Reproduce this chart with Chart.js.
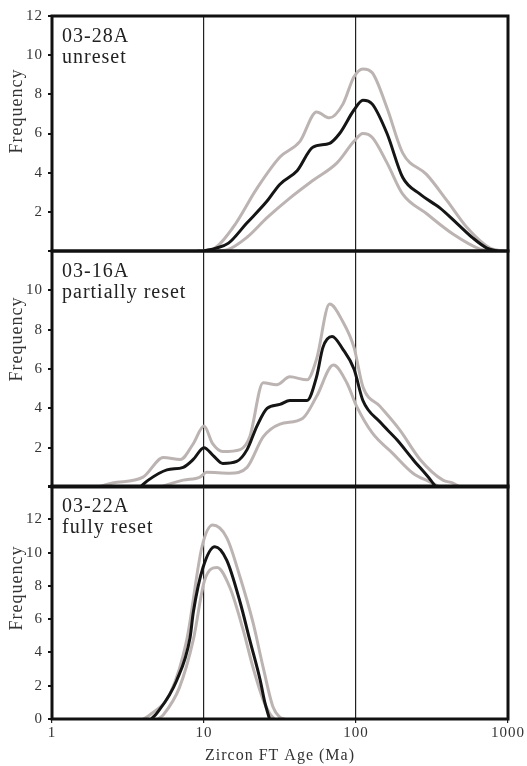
<!DOCTYPE html>
<html>
<head>
<meta charset="utf-8">
<script src="https://cdn.jsdelivr.net/npm/chart.js@4.4.1/dist/chart.umd.min.js"></script>
<style>
  body { margin: 0; background: #fff; }
  #wrap { position: relative; width: 527px; height: 766px; }
  canvas { position: absolute; left: 0; }
</style>
</head>
<body>
<div id="wrap">
  <canvas id="c1" width="527" height="265" style="top:0px"></canvas>
  <canvas id="c2" width="527" height="264" style="top:237px"></canvas>
  <canvas id="c3" width="527" height="296" style="top:470px"></canvas>
</div>
<script>
// x axis ticks (Ma, log scale)
var ageTicks = [1, 10, 100, 1000]

// 03-28A unreset
var p1MidAge = [10, 12, 14.5, 19, 26, 31.5, 41, 52, 67, 78, 97, 111, 128, 160, 203, 264, 356, 463, 586, 726, 850]
var p1MidFreq = [0, 0.15, 0.4, 1.4, 2.55, 3.4, 4.1, 5.3, 5.5, 6.0, 7.2, 7.7, 7.5, 6.0, 3.75, 2.9, 2.2, 1.4, 0.67, 0.15, 0]
var p1UpAge = [9, 11.4, 15.5, 22.3, 31.6, 42.8, 55, 67, 82, 97, 111, 128, 160, 203, 292, 398, 537, 761, 950]
var p1UpFreq = [0, 0.1, 1.2, 3.2, 4.8, 5.6, 7.1, 6.8, 7.5, 8.9, 9.3, 9.1, 7.3, 5.0, 3.9, 2.56, 1.2, 0.15, 0]
var p1LoAge = [12, 14.1, 19.2, 26, 36.7, 52, 75, 97, 111, 128, 160, 203, 292, 434, 655, 800]
var p1LoFreq = [0, 0.05, 0.7, 1.7, 2.7, 3.6, 4.5, 5.6, 6.0, 5.8, 4.5, 2.9, 1.9, 0.87, 0.1, 0]

// 03-16A partially reset
var p2MidAge = [3.8, 4.3, 5.7, 7.3, 8.5, 10, 11.5, 13.3, 16.4, 19.2, 22.3, 26, 31.6, 36.7, 47.6, 55, 60.6, 69.6, 82, 97, 111, 144, 186, 237, 310, 335]
var p2MidFreq = [0, 0.35, 0.87, 1.0, 1.4, 2.0, 1.6, 1.2, 1.3, 1.9, 3.1, 4.0, 4.2, 4.4, 4.4, 5.6, 7.1, 7.65, 7.0, 6.0, 4.4, 3.3, 2.4, 1.4, 0.35, 0]
var p2UpAge = [2.0, 2.5, 3.97, 5.4, 7.0, 8.5, 10, 11.4, 13.3, 17.3, 20, 24.5, 30, 36.7, 47.6, 55, 67, 82, 97, 111, 144, 194, 264, 373, 434, 480]
var p2UpFreq = [0, 0.2, 0.5, 1.5, 1.4, 2.2, 3.1, 2.2, 1.8, 1.9, 2.55, 5.3, 5.2, 5.6, 5.45, 6.5, 9.3, 8.4, 7.1, 5.1, 4.1, 2.9, 1.4, 0.35, 0.2, 0]
var p2LoAge = [5.1, 7.3, 9.4, 10.4, 14.8, 19.2, 24.5, 31.6, 44.7, 55, 71, 87, 101, 128, 175, 237, 308, 356]
var p2LoFreq = [0, 0.35, 0.5, 0.75, 0.7, 1.0, 2.55, 3.2, 3.5, 4.6, 6.2, 5.3, 4.1, 2.75, 1.7, 0.7, 0.25, 0]

// 03-22A fully reset
var p3MidAge = [4.5, 4.9, 6.6, 8.1, 8.5, 9.85, 11.8, 14.1, 17.3, 20, 23.4, 25.2, 27]
var p3MidFreq = [0, 0.35, 2.3, 4.9, 6.4, 9.1, 10.35, 9.55, 7.0, 4.75, 2.35, 0.95, 0]
var p3UpAge = [4.0, 4.4, 6.0, 7.7, 9.7, 11.4, 14.1, 17.3, 21, 24.5, 28.5, 31.6, 34]
var p3UpFreq = [0, 0.25, 1.55, 4.75, 10.35, 11.65, 10.9, 8.5, 5.8, 3.1, 0.7, 0.1, 0]
var p3LoAge = [5.0, 5.4, 6.9, 8.5, 10.1, 12.2, 14.8, 18.1, 21, 24.5, 27, 29]
var p3LoFreq = [0, 0.25, 1.9, 4.75, 8.35, 9.1, 7.9, 5.35, 3.1, 1.15, 0.35, 0]

var serif = "'Liberation Serif', 'DejaVu Serif', serif"
var grayCol = "#bcb4b2"
var blackCol = "#151515"

function pts(xs, ys){
	var out = []
	for(var i=0;i<xs.length;i++){ out.push({x:xs[i], y:ys[i]}) }
	return out
}

function line(xs, ys, col, ord){
	return {
		data: pts(xs, ys),
		borderColor: col,
		borderWidth: 3,
		pointRadius: 0,
		fill: false,
		cubicInterpolationMode: 'monotone',
		order: ord
	}
}

// frame + panel labels + "Frequency"
var panelDeco = {
	id: 'panelDeco',
	beforeDraw: function(chart){
		// the scanned figure has loosely spaced type
		chart.ctx.letterSpacing = "1px"
	},
	afterDraw: function(chart){
		var ctx = chart.ctx, a = chart.chartArea, o = chart.options.plugins.panelDeco
		ctx.save()
		ctx.strokeStyle = "#111"
		ctx.lineWidth = 3
		ctx.strokeRect(a.left, a.top, a.right - a.left, a.bottom - a.top)
		ctx.letterSpacing = "1px"
		ctx.fillStyle = "#222"
		ctx.font = "20px " + serif
		ctx.textBaseline = "alphabetic"
		ctx.textAlign = "left"
		ctx.fillText(o.name, a.left + 10, a.top + 26)
		ctx.fillText(o.state, a.left + 10, a.top + 47)
		ctx.translate(17, a.top + o.freqY)
		ctx.rotate(-Math.PI/2)
		ctx.textAlign = "center"
		ctx.textBaseline = "middle"
		ctx.font = "18px " + serif
		ctx.fillStyle = "#333"
		ctx.fillText("Frequency", 0, 0)
		ctx.restore()
	}
}

function makeChart(id, sets, cfg){
	var el = document.getElementById(id)
	return new Chart(el, {
		type: 'line',
		data: { datasets: sets },
		plugins: [panelDeco],
		options: {
			responsive: false,
			animation: false,
			devicePixelRatio: 1,
			layout: { padding: cfg.pad },
			plugins: {
				legend: { display: false },
				tooltip: { enabled: false },
				panelDeco: { name: cfg.name, state: cfg.state, freqY: cfg.freqY }
			},
			scales: {
				x: {
					type: 'logarithmic',
					min: 1, max: 1000,
					afterBuildTicks: function(s){ s.ticks = ageTicks.map(function(v){ return {value:v} }) },
					afterFit: function(s){ s.height = cfg.xHeight },
					border: { display: false },
					grid: { color: "#222", lineWidth: 1.2, drawTicks: cfg.bottom, tickLength: 4 },
					ticks: {
						display: cfg.bottom,
						autoSkip: false,
						maxRotation: 0,
						padding: 1,
						color: "#333",
						font: { family: serif, size: 15 },
						callback: function(v){ return ageTicks.indexOf(v) >= 0 ? String(v) : '' }
					},
					title: {
						display: cfg.bottom,
						text: "Zircon FT Age (Ma)",
						color: "#333",
						font: { family: serif, size: 16 },
						padding: { top: 0, bottom: 1 }
					}
				},
				y: {
					min: 0, max: cfg.yMax,
					afterFit: function(s){ s.width = 52 },
					border: { display: false },
					grid: { drawOnChartArea: false, drawTicks: true, tickLength: 4, color: "#111", lineWidth: 2 },
					ticks: {
						stepSize: 2,
						padding: 5,
						color: "#333",
						font: { family: serif, size: 15 },
						callback: function(v){ return cfg.hide.indexOf(v) >= 0 ? '' : String(v) }
					}
				}
			}
		}
	})
}

makeChart('c1', [
	line(p1MidAge, p1MidFreq, blackCol, 0),
	line(p1UpAge, p1UpFreq, grayCol, 1),
	line(p1LoAge, p1LoFreq, grayCol, 1)
], { pad: {top:16, right:19, bottom:5, left:0}, yMax: 12, hide: [0], bottom: false, xHeight: 0,
     name: "03-28A", state: "unreset", freqY: 95 })

makeChart('c2', [
	line(p2MidAge, p2MidFreq, blackCol, 0),
	line(p2UpAge, p2UpFreq, grayCol, 1),
	line(p2LoAge, p2LoFreq, grayCol, 1)
], { pad: {top:10, right:19, bottom:6, left:0}, yMax: 12, hide: [0, 12], bottom: false, xHeight: 0,
     name: "03-16A", state: "partially reset", freqY: 88 })

makeChart('c3', [
	line(p3MidAge, p3MidFreq, blackCol, 0),
	line(p3UpAge, p3UpFreq, grayCol, 1),
	line(p3LoAge, p3LoFreq, grayCol, 1)
], { pad: {top:16, right:19, bottom:0, left:0}, yMax: 14, hide: [14], bottom: true, xHeight: 47,
     name: "03-22A", state: "fully reset", freqY: 102 })
</script>
</body>
</html>
